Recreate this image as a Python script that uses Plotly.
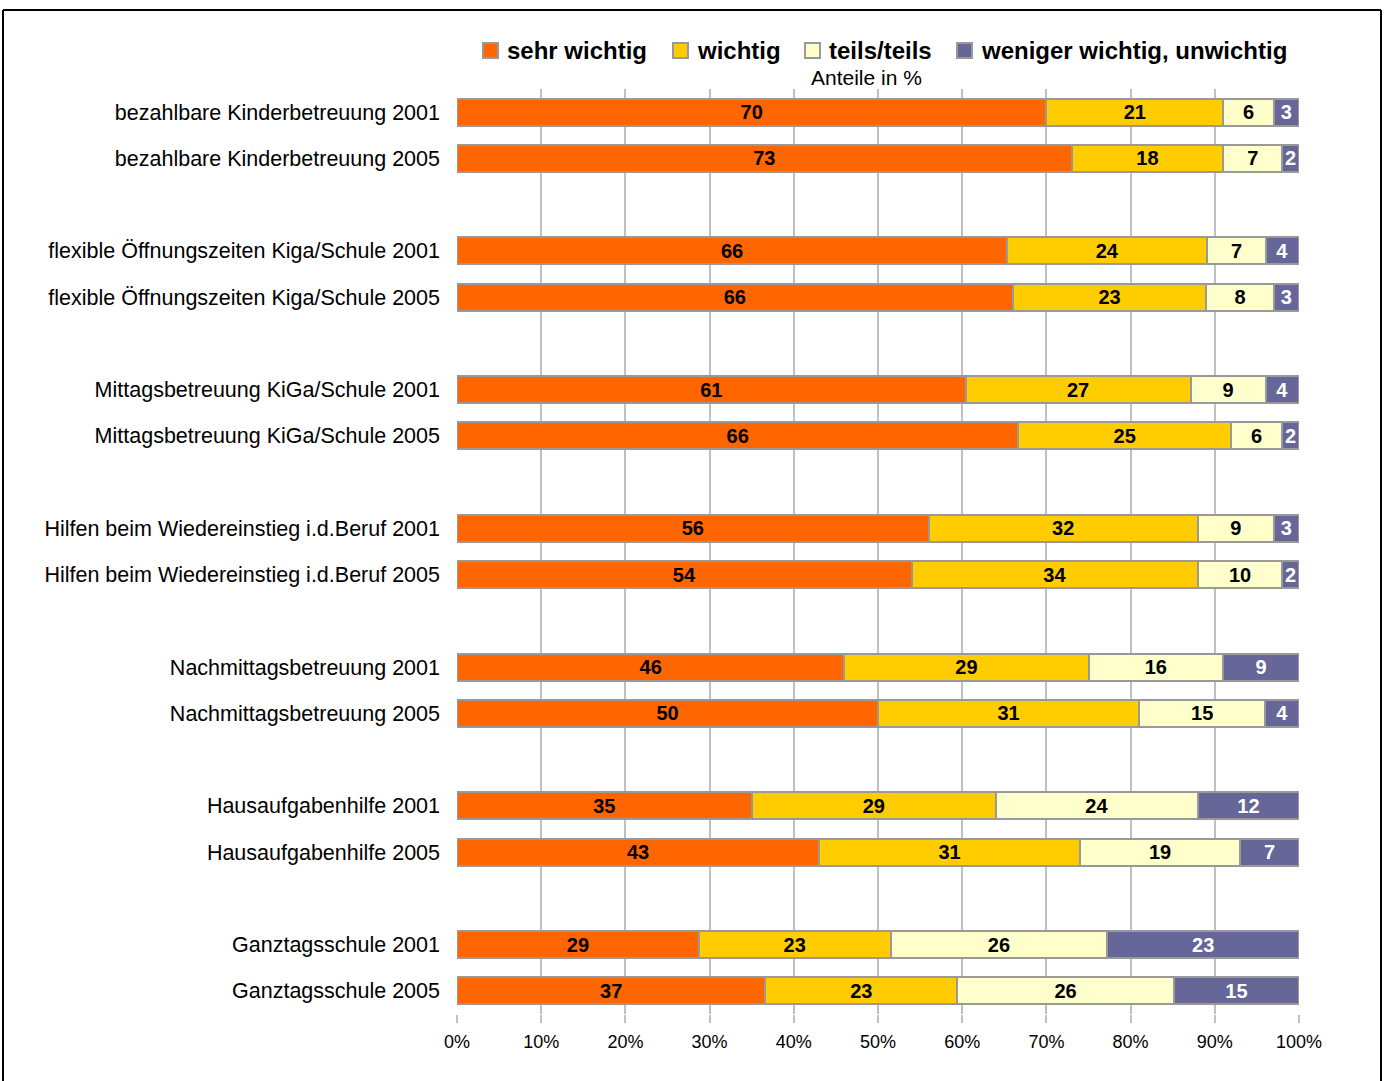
import plotly.graph_objects as go

# Survey rows (top to bottom), two survey years per topic
categories = [
    "bezahlbare Kinderbetreuung 2001",
    "bezahlbare Kinderbetreuung 2005",
    "flexible Öffnungszeiten Kiga/Schule 2001",
    "flexible Öffnungszeiten Kiga/Schule 2005",
    "Mittagsbetreuung KiGa/Schule 2001",
    "Mittagsbetreuung KiGa/Schule 2005",
    "Hilfen beim Wiedereinstieg i.d.Beruf 2001",
    "Hilfen beim Wiedereinstieg i.d.Beruf 2005",
    "Nachmittagsbetreuung 2001",
    "Nachmittagsbetreuung 2005",
    "Hausaufgabenhilfe 2001",
    "Hausaufgabenhilfe 2005",
    "Ganztagsschule 2001",
    "Ganztagsschule 2005",
]

sehr_wichtig = [70, 73, 66, 66, 61, 66, 56, 54, 46, 50, 35, 43, 29, 37]
wichtig = [21, 18, 24, 23, 27, 25, 32, 34, 29, 31, 29, 31, 23, 23]
teils_teils = [6, 7, 7, 8, 9, 6, 9, 10, 16, 15, 24, 19, 26, 26]
weniger_wichtig = [3, 2, 4, 3, 4, 2, 3, 2, 9, 4, 12, 7, 23, 15]

series_names = ["sehr wichtig", "wichtig", "teils/teils", "weniger wichtig, unwichtig"]
series_values = [sehr_wichtig, wichtig, teils_teils, weniger_wichtig]
series_colors = ["#FF6600", "#FFCC00", "#FFFFCC", "#666699"]
label_colors = ["black", "black", "black", "white"]

x_ticks = [0, 10, 20, 30, 40, 50, 60, 70, 80, 90, 100]
x_ticktext = [f"{t}%" for t in x_ticks]

# pairs of rows separated by an empty slot
y_pos = [(i // 2) * 3 + (i % 2) for i in range(len(categories))]

FONT = "Arial, Liberation Sans, sans-serif"

fig = go.Figure()
for name, vals, col, tcol in zip(series_names, series_values, series_colors, label_colors):
    fig.add_trace(go.Bar(
        y=y_pos, x=vals, name=name, orientation="h",
        width=0.58,
        marker=dict(color=col, line=dict(color="#999999", width=2)),
        text=vals, texttemplate="%{text}",
        textposition="inside", insidetextanchor="middle", textangle=0,
        insidetextfont=dict(family=FONT, size=20, color=tcol, weight="bold"),
        showlegend=False,
        hoverinfo="skip",
    ))

# plot area in pixels
W, H = 1386, 1081
L, R = 457, 1299
T, B = 89, 1014
pw, ph = R - L, B - T


def px(x):
    return (x - L) / pw


def py(y):
    return (B - y) / ph


shapes = []
annotations = []

# legend row
legend_items = [(483, 505), (673, 695), (805, 827), (957, 979)]
for (sx, tx), name, col in zip(legend_items, series_names, series_colors):
    shapes.append(dict(type="rect", xref="paper", yref="paper",
                       x0=px(sx), x1=px(sx + 15), y0=py(58), y1=py(43),
                       fillcolor=col, line=dict(color="#999999", width=2)))
    annotations.append(dict(xref="paper", yref="paper", x=px(tx), y=py(51),
                            xanchor="left", yanchor="middle", showarrow=False,
                            text=f"<b>{name}</b>",
                            font=dict(family=FONT, size=24, color="black")))

annotations.append(dict(xref="paper", yref="paper", x=px(866), y=py(78),
                        xanchor="center", yanchor="middle", showarrow=False,
                        text="Anteile in %",
                        font=dict(family=FONT, size=21, color="black")))

# outer frame
for x0, y0, x1, y1 in [(3, 10, 1381, 10), (3, 10, 3, 1095), (1381, 10, 1381, 1095)]:
    shapes.append(dict(type="line", xref="paper", yref="paper",
                       x0=px(x0), y0=py(y0), x1=px(x1), y1=py(y1),
                       line=dict(color="black", width=2)))

fig.update_layout(
    width=W, height=H,
    margin=dict(l=L, r=W - R, t=T, b=H - B, pad=0),
    barmode="stack", barnorm="percent",
    plot_bgcolor="white", paper_bgcolor="white",
    font=dict(family=FONT, color="black"),
    shapes=shapes, annotations=annotations,
    uniformtext=dict(minsize=20, mode="show"),
    xaxis=dict(
        range=[0, 100], tickvals=x_ticks, ticktext=x_ticktext,
        showgrid=True, gridcolor="#C0C0C0", gridwidth=2,
        ticks="outside", ticklen=8, tickcolor="#C0C0C0", tickwidth=2,
        tickfont=dict(family=FONT, size=18, color="black"),
        showline=False, zeroline=False, fixedrange=True,
        ticklabelstandoff=3,
    ),
    yaxis=dict(
        range=[19.5, -0.5], tickvals=y_pos, ticktext=categories,
        showgrid=False, zeroline=False, showline=False, ticks="",
        tickfont=dict(family=FONT, size=21.5, color="black"),
        ticklabelstandoff=16, fixedrange=True,
    ),
)

fig.write_html("out.html")
